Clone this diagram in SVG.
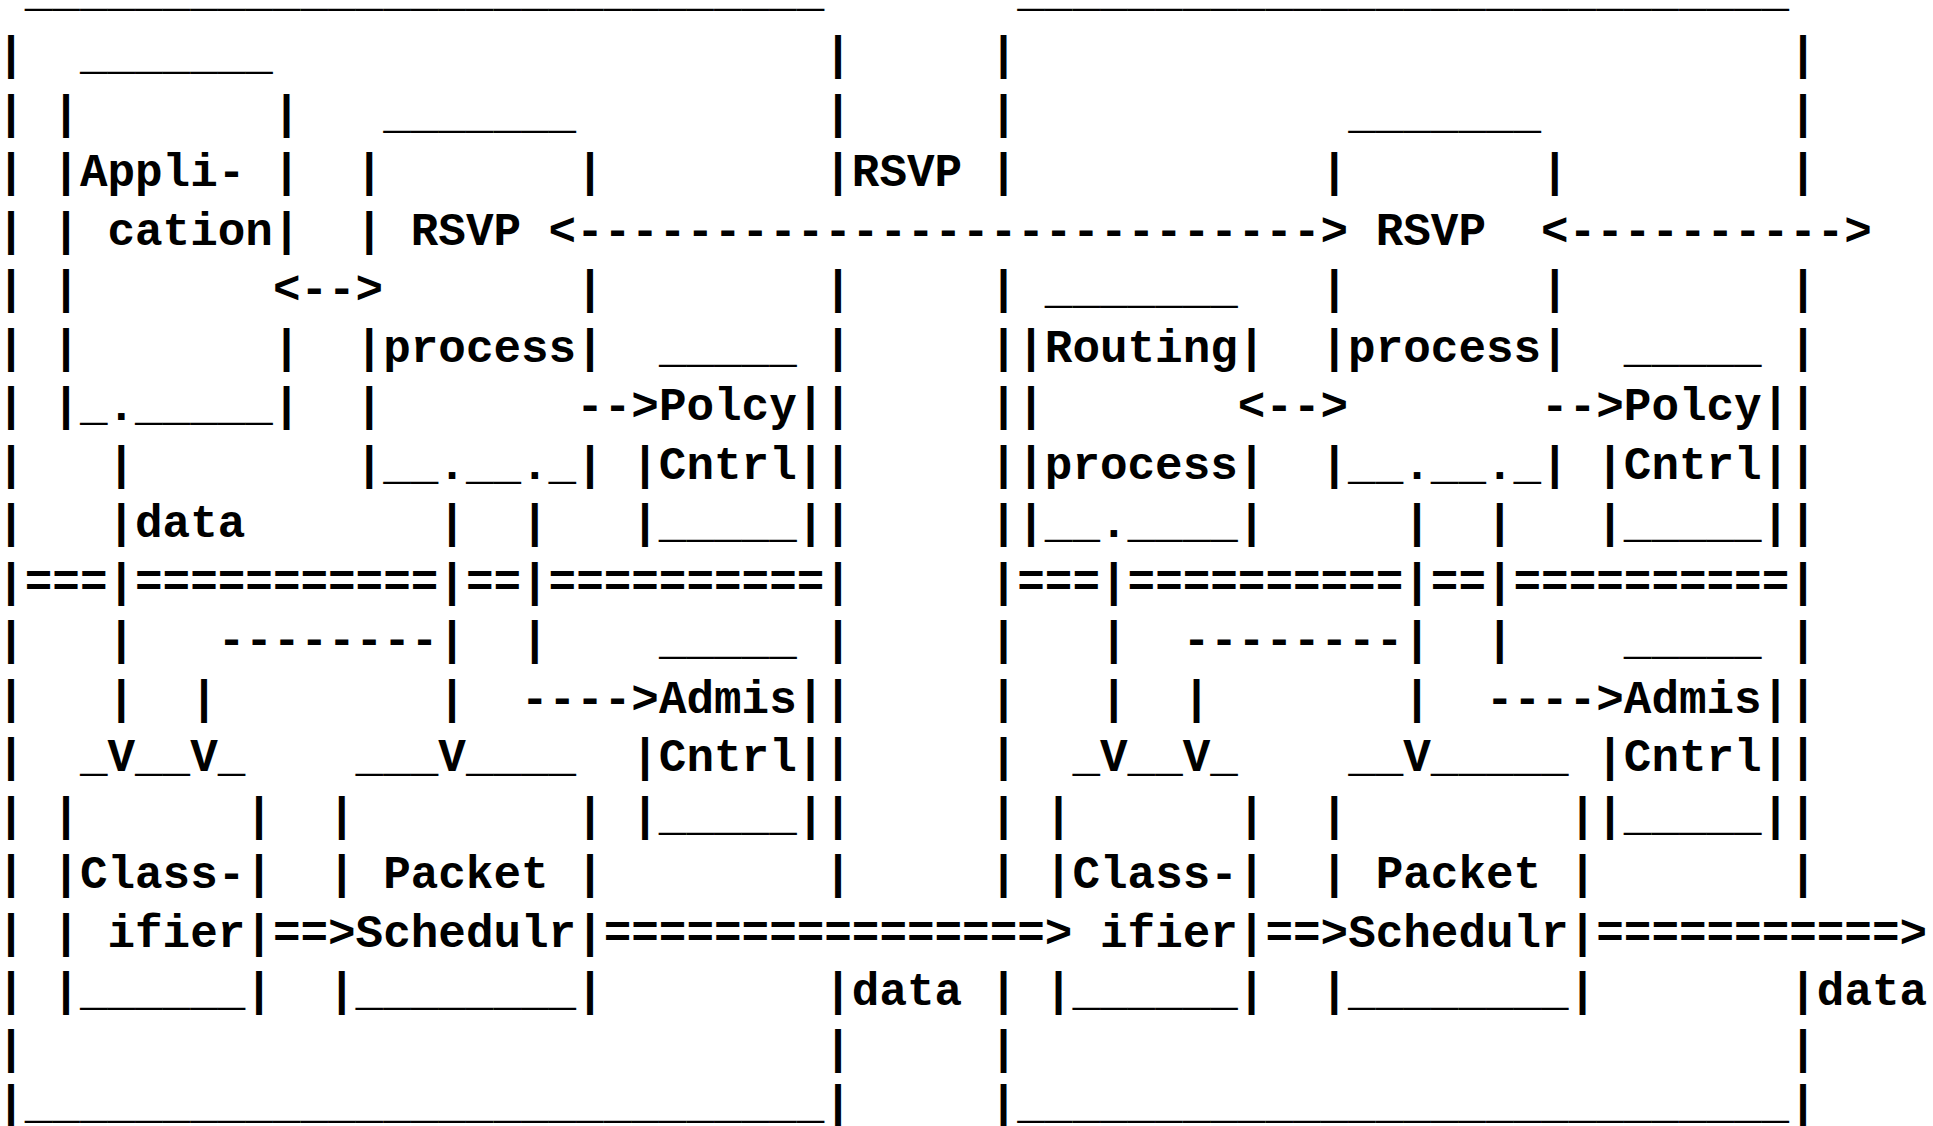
<svg xmlns="http://www.w3.org/2000/svg" width="1933" height="1126" viewBox="0 0 1933 1126" xml:space="preserve">
<style>
text { font-family: "Liberation Mono", "Courier New", monospace; font-weight: bold; font-size: 45.95px; fill: #000; white-space: pre; }
</style>
<rect x="0" y="0" width="1933" height="1126" fill="#fff"/>

<g id="host">
<text x="24.77" y="6">_____________________________</text>
<text x="-2.8 -2.8 -2.8 -2.8 -2.8 -2.8 -2.8 -2.8 -2.8 -2.8 -2.8 -2.8 -2.8 -2.8 -2.8 -2.8 -2.8 -2.8" y="69.47 127.94 186.41 244.88 303.35 361.82 420.29 478.76 537.23 595.7 654.17 712.64 771.11 829.58 888.05 946.52 1004.99 1063.46">||||||||||||||||||</text>
<text x="824.3 824.3 824.3 824.3 824.3 824.3 824.3 824.3 824.3 824.3 824.3 824.3 824.3 824.3 824.3 824.3" y="69.47 127.94 186.41 303.35 361.82 420.29 478.76 537.23 595.7 654.17 712.64 771.11 829.58 888.05 1004.99 1063.46">||||||||||||||||</text>
<text x="-2.8" y="1117.5">|_____________________________|</text>
<text x="24.77" y="595.7">===</text>
<text x="135.05" y="595.7">===========</text>
<text x="465.89" y="595.7">==</text>
<text x="548.6" y="595.7">==========</text>
</g>

<g id="host-application">
<text x="79.91" y="69.47">_______</text>
<text x="52.34" y="127.94">|       |</text>
<text x="52.34" y="186.41">|Appli- |</text>
<text x="52.34" y="244.88">| cation|</text>
<text x="52.34" y="303.35">|</text>
<text x="52.34" y="361.82">|       |</text>
<text x="52.34" y="420.29">|_._____|</text>
</g>

<g id="host-rsvp-process">
<text x="383.18" y="127.94">_______</text>
<text x="355.61" y="186.41">|       |</text>
<text x="355.61" y="244.88">| RSVP</text>
<text x="576.17" y="303.35">|</text>
<text x="355.61" y="361.82">|process|</text>
<text x="355.61" y="420.29">|</text>
<text x="355.61" y="478.76">|__.__._|</text>
</g>

<g id="host-policy-control">
<text x="658.88" y="361.82">_____</text>
<text x="658.88" y="420.29">Polcy|</text>
<text x="631.31" y="478.76">|Cntrl|</text>
<text x="631.31" y="537.23">|_____|</text>
</g>

<g id="host-admission-control">
<text x="658.88" y="654.17">_____</text>
<text x="658.88" y="712.64">Admis|</text>
<text x="631.31" y="771.11">|Cntrl|</text>
<text x="631.31" y="829.58">|_____|</text>
</g>

<g id="host-classifier">
<text x="79.91" y="771.11">_</text>
<text x="135.05" y="771.11">__</text>
<text x="217.76" y="771.11">_</text>
<text x="52.34" y="829.58">|      |</text>
<text x="52.34" y="888.05">|Class-|</text>
<text x="52.34" y="946.52">| ifier|</text>
<text x="52.34" y="1004.99">|______|</text>
</g>

<g id="host-packet-scheduler">
<text x="355.61" y="771.11">___</text>
<text x="465.89" y="771.11">____</text>
<text x="328.04" y="829.58">|        |</text>
<text x="328.04" y="888.05">| Packet |</text>
<text x="355.61" y="946.52">Schedulr|</text>
<text x="328.04" y="1004.99">|________|</text>
</g>

<g id="router">
<text x="1017.29" y="6">____________________________</text>
<text x="989.72 989.72 989.72 989.72 989.72 989.72 989.72 989.72 989.72 989.72 989.72 989.72 989.72 989.72 989.72 989.72" y="69.47 127.94 186.41 303.35 361.82 420.29 478.76 537.23 595.7 654.17 712.64 771.11 829.58 888.05 1004.99 1063.46">||||||||||||||||</text>
<text x="1789.25 1789.25 1789.25 1789.25 1789.25 1789.25 1789.25 1789.25 1789.25 1789.25 1789.25 1789.25 1789.25 1789.25 1789.25 1789.25" y="69.47 127.94 186.41 303.35 361.82 420.29 478.76 537.23 595.7 654.17 712.64 771.11 829.58 888.05 1004.99 1063.46">||||||||||||||||</text>
<text x="989.72" y="1117.5">|____________________________|</text>
<text x="1017.29" y="595.7">===</text>
<text x="1127.57" y="595.7">==========</text>
<text x="1430.84" y="595.7">==</text>
<text x="1513.55" y="595.7">==========</text>
</g>

<g id="router-routing-process">
<text x="1044.86" y="303.35">_______</text>
<text x="1017.29" y="361.82">|Routing|</text>
<text x="1017.29" y="420.29">|</text>
<text x="1017.29" y="478.76">|process|</text>
<text x="1017.29" y="537.23">|__.____|</text>
</g>

<g id="router-rsvp-process">
<text x="1348.13" y="127.94">_______</text>
<text x="1320.56" y="186.41">|       |</text>
<text x="1375.7" y="244.88">RSVP</text>
<text x="1320.56" y="303.35">|       |</text>
<text x="1320.56" y="361.82">|process|</text>
<text x="1320.56" y="478.76">|__.__._|</text>
</g>

<g id="router-policy-control">
<text x="1623.83" y="361.82">_____</text>
<text x="1623.83" y="420.29">Polcy|</text>
<text x="1596.26" y="478.76">|Cntrl|</text>
<text x="1596.26" y="537.23">|_____|</text>
</g>

<g id="router-admission-control">
<text x="1623.83" y="654.17">_____</text>
<text x="1623.83" y="712.64">Admis|</text>
<text x="1596.26" y="771.11">|Cntrl|</text>
<text x="1596.26" y="829.58">|_____|</text>
</g>

<g id="router-classifier">
<text x="1072.43" y="771.11">_</text>
<text x="1127.57" y="771.11">__</text>
<text x="1210.28" y="771.11">_</text>
<text x="1044.86" y="829.58">|      |</text>
<text x="1044.86" y="888.05">|Class-|</text>
<text x="1100" y="946.52">ifier|</text>
<text x="1044.86" y="1004.99">|______|</text>
</g>

<g id="router-packet-scheduler">
<text x="1348.13" y="771.11">__</text>
<text x="1430.84" y="771.11">_____</text>
<text x="1320.56" y="829.58">|        |</text>
<text x="1320.56" y="888.05">| Packet |</text>
<text x="1348.13" y="946.52">Schedulr|</text>
<text x="1320.56" y="1004.99">|________|</text>
</g>

<g id="connectors">
<text x="272.9" y="303.35">&lt;--&gt;</text>
<text x="548.6" y="244.88">&lt;---------------------------&gt;</text>
<text x="1541.12" y="244.88">&lt;----------&gt;</text>
<text x="576.17" y="420.29">--&gt;</text>
<text x="1237.85" y="420.29">&lt;--&gt;</text>
<text x="1541.12" y="420.29">--&gt;</text>
<text x="107.48 107.48 107.48 107.48 107.48 107.48" y="478.76 537.23 595.7 654.17 712.64 771.11">|||||V</text>
<text x="438.32 438.32 438.32 438.32 438.32" y="537.23 595.7 654.17 712.64 771.11">||||V</text>
<text x="217.76" y="654.17">--------</text>
<text x="190.19 190.19" y="712.64 771.11">|V</text>
<text x="521.03 521.03 521.03" y="537.23 595.7 654.17">|||</text>
<text x="521.03" y="712.64">----&gt;</text>
<text x="1100 1100 1100 1100" y="595.7 654.17 712.64 771.11">|||V</text>
<text x="1403.27 1403.27 1403.27 1403.27 1403.27" y="537.23 595.7 654.17 712.64 771.11">||||V</text>
<text x="1182.71" y="654.17">--------</text>
<text x="1182.71 1182.71" y="712.64 771.11">|V</text>
<text x="1485.98 1485.98 1485.98" y="537.23 595.7 654.17">|||</text>
<text x="1485.98" y="712.64">----&gt;</text>
<text x="272.9" y="946.52">==&gt;</text>
<text x="603.74" y="946.52">================&gt;</text>
<text x="1265.42" y="946.52">==&gt;</text>
<text x="1596.26" y="946.52">===========&gt;</text>
</g>

<g id="labels">
<text x="851.87" y="186.41">RSVP</text>
<text x="135.05" y="537.23">data</text>
<text x="851.87" y="1004.99">data</text>
<text x="1816.82" y="1004.99">data</text>
</g>
</svg>
